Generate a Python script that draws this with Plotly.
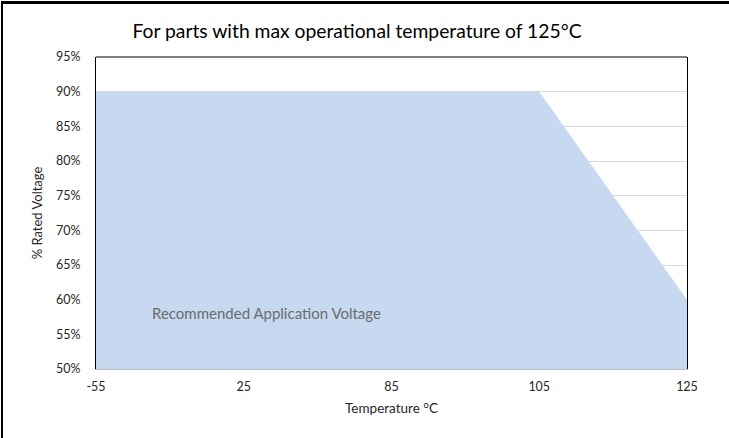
import plotly.graph_objects as go

# Data
temperatures = ["-55", "25", "85", "105", "125"]
rated_voltage = [0.90, 0.90, 0.90, 0.90, 0.60]
y_ticks = [0.50, 0.55, 0.60, 0.65, 0.70, 0.75, 0.80, 0.85, 0.90, 0.95]

title_text = "For parts with max operational temperature of 125°C"
x_title = "Temperature °C"
y_title = "% Rated Voltage"
area_label = "Recommended Application Voltage"

FONT = "Lato"

fig = go.Figure()
fig.add_trace(go.Scatter(
    x=temperatures, y=rated_voltage,
    mode="lines", line=dict(width=0, color="#C6D9F1"),
    fill="tozeroy", fillcolor="#C6D9F1",
    hoverinfo="skip", showlegend=False,
))

W, H = 729, 438
L, R, T, B = 96, 42, 57, 69
pw, ph = W - L - R, H - T - B

def px_to_paper_x(px):
    return (px - L) / pw

def px_to_paper_y(py):
    return (H - B - py) / ph

fig.update_layout(
    width=W, height=H,
    margin=dict(l=L, r=R, t=T, b=B),
    paper_bgcolor="white", plot_bgcolor="white",
    font=dict(family=FONT, color="#262626", size=12),
    title=dict(text=title_text, xref="paper", x=px_to_paper_x(357), xanchor="center",
               y=1 - 31 / H, yanchor="middle",
               font=dict(family=FONT, size=19.3, color="#000000")),
    xaxis=dict(
        type="category", range=[0, len(temperatures) - 1],
        showgrid=False, zeroline=False,
        showline=True, linecolor="#BFBFBF", linewidth=1,
        ticks="", ticklabelstandoff=6, tickfont=dict(size=12.5, color="#262626"),
        title=dict(text=x_title, font=dict(size=13.5, color="#262626"), standoff=10),
    ),
    yaxis=dict(
        range=[0.50, 0.95], tickvals=y_ticks, tickformat=".0%",
        showgrid=True, gridcolor="#D9D9D9", gridwidth=1,
        zeroline=False, showline=True, linecolor="#000000", linewidth=1, mirror=True,
        ticks="", ticklabelstandoff=12, tickfont=dict(size=12.5, color="#262626"),
        title=dict(text=y_title, font=dict(size=13, color="#262626"), standoff=10),
    ),
    annotations=[dict(
        text=area_label, xref="paper", yref="y", x=px_to_paper_x(150), y=0.581,
        xanchor="left", yanchor="middle", showarrow=False,
        font=dict(family=FONT, size=15, color="#6B6B6B"),
    )],
    shapes=[
        # top plot border
        dict(type="line", xref="paper", yref="paper", x0=0, x1=1, y0=1, y1=1,
             line=dict(color="#000000", width=1)),
        # outer chart border: top edge
        dict(type="line", xref="paper", yref="paper",
             x0=px_to_paper_x(1), x1=px_to_paper_x(729),
             y0=px_to_paper_y(3), y1=px_to_paper_y(3),
             line=dict(color="#000000", width=2), layer="above"),
        # outer chart border: left edge
        dict(type="line", xref="paper", yref="paper",
             x0=px_to_paper_x(2), x1=px_to_paper_x(2),
             y0=px_to_paper_y(2), y1=px_to_paper_y(438),
             line=dict(color="#000000", width=2), layer="above"),
    ],
)

post = (
    "document.body.style.margin='0';"
    "document.documentElement.style.overflow='hidden';"
    "var d=document.createElement('div');"
    "d.style.cssText='position:absolute;left:1px;top:1px;width:728px;height:2px;"
    "background:#000;z-index:1000;pointer-events:none';"
    "document.body.appendChild(d);"
)

fig.write_html("out.html", config={"displayModeBar": False}, post_script=post)
